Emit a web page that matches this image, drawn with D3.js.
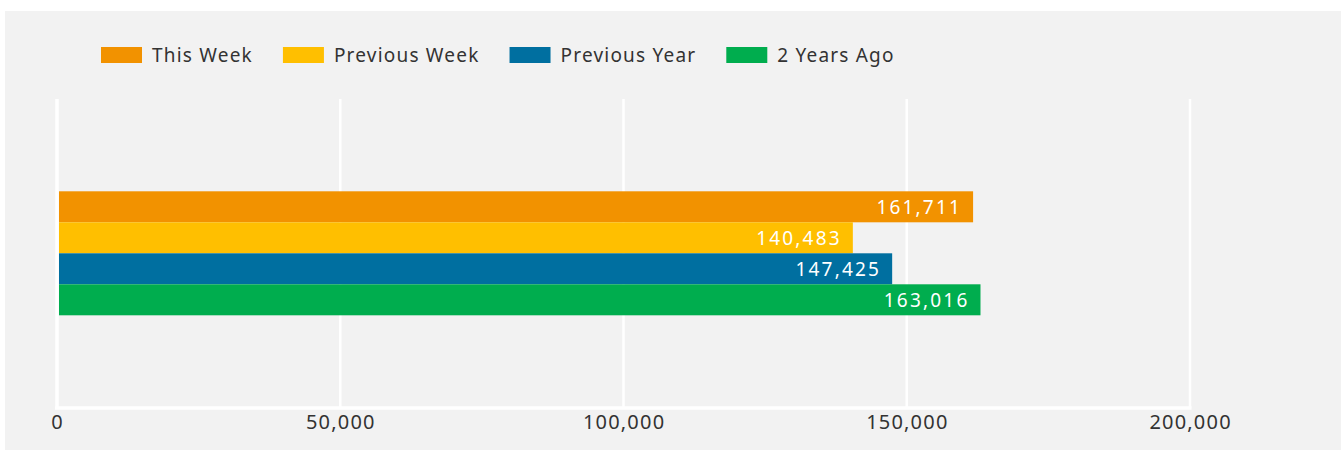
<!DOCTYPE html>
<html>
<head>
<meta charset="utf-8">
<script src="https://cdn.jsdelivr.net/npm/d3@7"></script>
<style>
  html, body { margin: 0; padding: 0; background: #ffffff; }
  svg { display: block; }
  text { font-family: "Noto Sans", "Open Sans", sans-serif; }
</style>
</head>
<body>
<svg id="chart" width="1341" height="450"></svg>
<script>
const series = ["This Week", "Previous Week", "Previous Year", "2 Years Ago"];
const values = [161711, 140483, 147425, 163016];
const colors = ["#f29200", "#ffbf00", "#006fa0", "#00ad4e"];
const xTicks = [0, 50000, 100000, 150000, 200000];

const svg = d3.select("#chart");
const W = 1341, H = 450;

svg.append("rect").attr("x", 5).attr("y", 11).attr("width", W - 5).attr("height", H - 11).attr("fill", "#f2f2f2");

const x = d3.scaleLinear().domain([0, 200000]).range([57, 1190]);
const plotTop = 99, plotBottom = 408;
const y = d3.scaleBand().domain(series).range([191.3, 315.3]).padding(0);

// gridlines
svg.append("g").selectAll("line").data(xTicks).join("line")
  .attr("x1", d => x(d)).attr("x2", d => x(d))
  .attr("y1", plotTop).attr("y2", plotBottom)
  .attr("stroke", "#ffffff").attr("stroke-width", d => d === 0 ? 3.5 : 2.5);

// bottom axis line
svg.append("line").attr("x1", x(0) - 2).attr("x2", x(200000) + 1.5)
  .attr("y1", plotBottom).attr("y2", plotBottom)
  .attr("stroke", "#ffffff").attr("stroke-width", 3.5);

// tick labels
const fmt = d3.format(",");
svg.append("g").selectAll("text").data(xTicks).join("text")
  .attr("x", d => x(d) + 0.6).attr("y", 429)
  .attr("text-anchor", "middle")
  .attr("font-size", 20).attr("letter-spacing", 1.2)
  .attr("fill", "#333333")
  .text(d => fmt(d));

// bars
svg.append("g").selectAll("rect").data(series).join("rect")
  .attr("x", x(0) + 2).attr("y", d => y(d))
  .attr("width", (d, i) => x(values[i]) - x(0) - 2)
  .attr("height", y.bandwidth())
  .attr("fill", (d, i) => colors[i]);

// data labels
svg.append("g").selectAll("text").data(series).join("text")
  .attr("x", (d, i) => x(values[i]) - 11)
  .attr("y", d => y(d) + y.bandwidth() / 2 + 6.8)
  .attr("text-anchor", "end")
  .attr("font-size", 19).attr("letter-spacing", 2.2)
  .attr("fill", "#ffffff")
  .text((d, i) => fmt(values[i]));

// legend
const legend = svg.append("g");
let lx = 101;
series.forEach((s, i) => {
  legend.append("rect").attr("x", lx).attr("y", 47).attr("width", 41).attr("height", 16).attr("fill", colors[i]);
  const t = legend.append("text").attr("x", lx + 51).attr("y", 62)
    .attr("font-size", 19).attr("letter-spacing", 1.2)
    .attr("fill", "#333333").text(s);
  lx = lx + 51 + t.node().getComputedTextLength() + 30;
});
</script>
</body>
</html>
